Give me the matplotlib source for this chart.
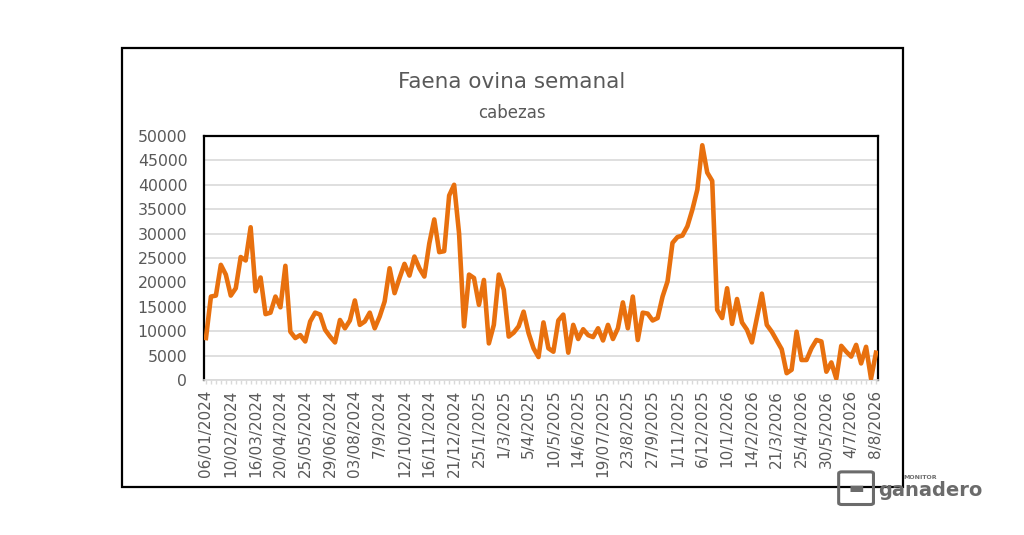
import matplotlib
matplotlib.use("Agg")
import matplotlib.pyplot as plt
from matplotlib.patches import Rectangle, FancyBboxPatch

# --- weekly sheep slaughter (heads) ---
faena = [
    8600, 17100, 17300, 23600, 21600, 17300, 18800, 25200, 24500, 31300,
    18200, 21000, 13500, 13800, 17100, 14900, 23400, 9900, 8600, 9200,
    7900, 12000, 13800, 13400, 10300, 8900, 7700, 12300, 10600, 12200,
    16300, 11300, 12000, 13800, 10600, 13000, 16100, 22900, 17800, 20900,
    23800, 21400, 25300, 22900, 21200, 28000, 32900, 26200, 26400, 37800,
    40000, 30000, 11000, 21600, 20900, 15400, 20500, 7500, 11300, 21600,
    18500, 8900, 9700, 11000, 14000, 9600, 6500, 4700, 11800, 6500,
    5800, 12200, 13400, 5600, 11300, 8400, 10400, 9200, 8800, 10600,
    8100, 11300, 8400, 10600, 15900, 10600, 17100, 8200, 13800, 13600,
    12200, 12700, 17100, 20200, 28100, 29300, 29600, 31500, 34900, 39000,
    48100, 42500, 40800, 14400, 12700, 18800, 11500, 16600, 11800, 10300,
    7700, 12700, 17700, 11300, 9900, 8100, 6300, 1400, 2100, 9900,
    4100, 4100, 6500, 8200, 7900, 1700, 3600, 300, 7000, 5800,
    4800, 7200, 3400, 6800, 300, 5600,
]

# one label every 5 weeks
tick_labels = [
    "06/01/2024", "10/02/2024", "16/03/2024", "20/04/2024", "25/05/2024",
    "29/06/2024", "03/08/2024", "7/9/2024", "12/10/2024", "16/11/2024",
    "21/12/2024", "25/1/2025", "1/3/2025", "5/4/2025", "10/5/2025",
    "14/6/2025", "19/07/2025", "23/8/2025", "27/9/2025", "1/11/2025",
    "6/12/2025", "10/1/2026", "14/2/2026", "21/3/2026", "25/4/2026",
    "30/5/2026", "4/7/2026", "8/8/2026",
]
LABEL_STEP = 5

TEXT_GRAY = "#595959"
GRID_GRAY = "#d9d9d9"
ORANGE = "#E8700E"

fig = plt.figure(figsize=(10.24, 5.35), dpi=100)
fig.patch.set_facecolor("white")

# outer black frame
fig.patches.append(Rectangle((0.1191, 0.0897), 0.7627, 0.8206, transform=fig.transFigure,
                             fill=False, edgecolor="black", linewidth=1.6))

ax = fig.add_axes([0.1992, 0.2897, 0.6582, 0.4561])

weeks = list(range(len(faena)))
ax.plot(weeks, faena, color=ORANGE, linewidth=3.3, solid_joinstyle="round", zorder=3)

ax.set_xlim(-0.4, len(faena) - 0.6)
ax.set_ylim(0, 50000)
ax.set_yticks(range(0, 50001, 5000))
ax.yaxis.grid(True, color=GRID_GRAY, linewidth=1.2)
ax.set_axisbelow(True)

labels = [""] * len(faena)
for k, lab in enumerate(tick_labels):
    labels[k * LABEL_STEP] = lab
ax.set_xticks(weeks)
ax.set_xticklabels(labels, rotation=90)

ax.tick_params(axis="x", length=3, width=1, color=GRID_GRAY, labelcolor=TEXT_GRAY,
               labelsize=11, pad=4)
ax.tick_params(axis="y", length=0, labelcolor=TEXT_GRAY, labelsize=11.3, pad=12)

for side in ("top", "left", "right"):
    ax.spines[side].set_color("black")
    ax.spines[side].set_linewidth(1.6)
ax.spines["bottom"].set_color(GRID_GRAY)
ax.spines["bottom"].set_linewidth(1.2)

fig.text(0.5, 0.847, "Faena ovina semanal", ha="center", va="center",
         fontsize=15.5, color=TEXT_GRAY)
fig.text(0.5, 0.789, "cabezas", ha="center", va="center",
         fontsize=12, color=TEXT_GRAY)

# brand mark, bottom right
fig.patches.append(FancyBboxPatch((0.822, 0.06), 0.028, 0.055, transform=fig.transFigure,
                                  boxstyle="round,pad=0.003", fill=False,
                                  edgecolor="#6b6b6b", linewidth=2.2))
fig.text(0.836, 0.087, "\u25ac", ha="center", va="center", fontsize=12, color="#6b6b6b")
fig.text(0.882, 0.107, "MONITOR", ha="left", va="center", fontsize=4.5,
         color="#6b6b6b", fontweight="bold")
fig.text(0.858, 0.083, "ganadero", ha="left", va="center", fontsize=14,
         color="#6b6b6b", fontweight="bold")

fig.savefig("out.png", dpi=100, facecolor="white")
